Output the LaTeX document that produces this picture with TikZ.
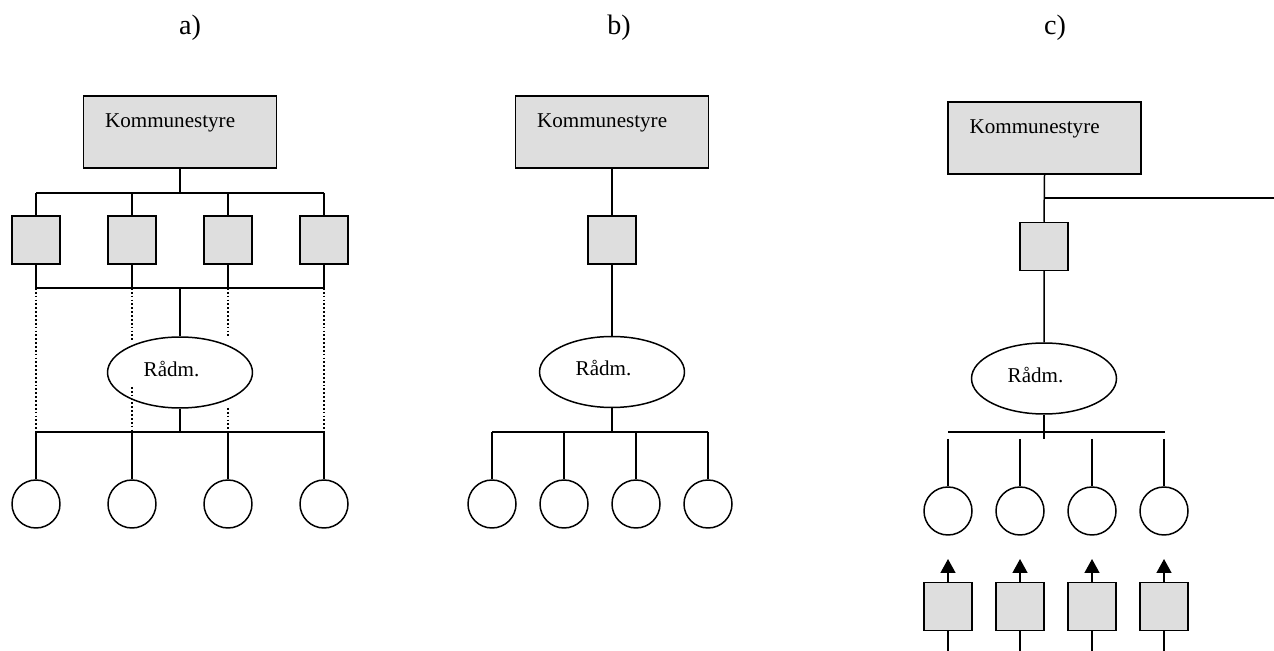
\documentclass[tikz,border=0pt]{standalone}
\usepackage{fontspec}
\setmainfont{Liberation Serif}
\usetikzlibrary{arrows.meta, shapes.geometric}
\definecolor{boxgray}{gray}{0.87}
\tikzset{
  board/.style={draw, line width=0.85pt, fill=boxgray, minimum width=3.86cm, minimum height=1.44cm, inner sep=0pt,
    label={[anchor=base west, inner sep=0pt, xshift=0.44cm, yshift=-0.64cm]north west:Kommunestyre}},
  unit/.style={draw, line width=0.85pt, fill=boxgray, minimum size=0.96cm, inner sep=0pt},
  chief/.style={draw, ellipse, line width=0.85pt, minimum width=2.9cm, minimum height=1.42cm, inner sep=0pt,
    label={[inner sep=0pt, xshift=-0.17cm, yshift=0.07cm]center:Rådm.}},
  office/.style={draw, circle, line width=0.85pt, minimum size=0.96cm, inner sep=0pt},
  wire/.style={line width=0.85pt},
  dots/.style={line width=0.7pt, dash pattern=on 1pt off 1.2pt},
  title/.style={font=\fontsize{16}{18}\selectfont},
}
\begin{document}
\begin{tikzpicture}[x=0.02cm, y=-0.02cm, font=\fontsize{12}{14}\selectfont]
  \useasboundingbox (0,0) rectangle (1274,651);
  % panel titles
  \node[title] (la) at (190,28) {a)};
  \node[title] (lb) at (619,28) {b)};
  \node[title] (lc) at (1055,28) {c)};

  % a)
  \node[board] (ka) at (180,132) {};
  \node[chief] (ra) at (180,372.5) {};
  \foreach \i/\x in {1/36, 2/132, 3/228, 4/324} {
    \node[unit] (ua\i) at (\x,240) {};
    \node[office] (oa\i) at (\x,504) {};
  }
  \coordinate (ta) at (180,193);
  \coordinate (ma) at (180,288);
  \coordinate (ba) at (180,432);
  \draw[wire] (ka.south) -- (ta);
  \draw[wire] (ua1.north |- ta) -- (ua4.north |- ta);
  \draw[wire] (ua1.south |- ma) -- (ua4.south |- ma);
  \draw[wire] (ma) -- (ra.north);
  \draw[wire] (ra.south) -- (ba);
  \draw[wire] (oa1.north |- ba) -- (oa4.north |- ba);
  \foreach \i in {1, ..., 4} {
    \draw[wire] (ua\i.north |- ta) -- (ua\i.north);
    \draw[wire] (ua\i.south) -- (ua\i.south |- ma);
    \draw[wire] (oa\i.north |- ba) -- (oa\i.north);
  }
  \draw[dots] (ua1.south |- ma) -- (oa1.north |- ba);
  \draw[dots] (ua4.south |- ma) -- (oa4.north |- ba);
  \coordinate (da2) at (132,340);
  \coordinate (ea2) at (132,387);
  \coordinate (da3) at (228,337);
  \coordinate (ea3) at (228,408);
  \foreach \i in {2, 3} {
    \draw[dots] (ua\i.south |- ma) -- (da\i);
    \draw[dots] (ea\i) -- (oa\i.north |- ba);
  }

  % b)
  \node[board] (kb) at (612,132) {};
  \node[unit] (ub) at (612,240) {};
  \node[chief] (rb) at (612,372) {};
  \foreach \i/\x in {1/492, 2/564, 3/636, 4/708}
    \node[office] (ob\i) at (\x,504) {};
  \coordinate (bb) at (612,432);
  \draw[wire] (kb.south) -- (ub.north) (ub.south) -- (rb.north);
  \draw[wire] (rb.south) -- (bb);
  \draw[wire] (ob1.north |- bb) -- (ob4.north |- bb);
  \foreach \i in {1, ..., 4}
    \draw[wire] (ob\i.north |- bb) -- (ob\i.north);

  % c)
  \node[board] (kc) at (1044.5,138) {};
  \node[unit] (uc) at (1044,246.5) {};
  \node[chief] (rc) at (1044,378.5) {};
  \coordinate (jc) at (1044,198);
  \coordinate (ec) at (1274,198);
  \coordinate (bc) at (1044,432);
  \coordinate (sc) at (1044,439);
  \draw[wire] (kc.south) -- (uc.north) (uc.south) -- (rc.north);
  \draw[wire] (jc) -- (ec);
  \draw[wire] (rc.south) -- (sc);
  \foreach \i/\x in {1/948, 2/1020, 3/1092, 4/1164} {
    \node[office] (oc\i) at (\x,511) {};
    \node[unit] (pc\i) at (\x,606.5) {};
    \coordinate (tc\i) at (\x,559);
    \coordinate (fc\i) at (\x,651);
    \draw[wire] (oc\i.north |- sc) -- (oc\i.north);
    \draw[wire, -{Triangle[width=0.3cm, length=0.28cm]}] (pc\i.north) -- (tc\i);
    \draw[wire] (pc\i.south) -- (fc\i);
  }
  \draw[wire] (oc1.north |- bc) -- ([xshift=0.02cm]oc4.north |- bc);
\end{tikzpicture}
\end{document}
